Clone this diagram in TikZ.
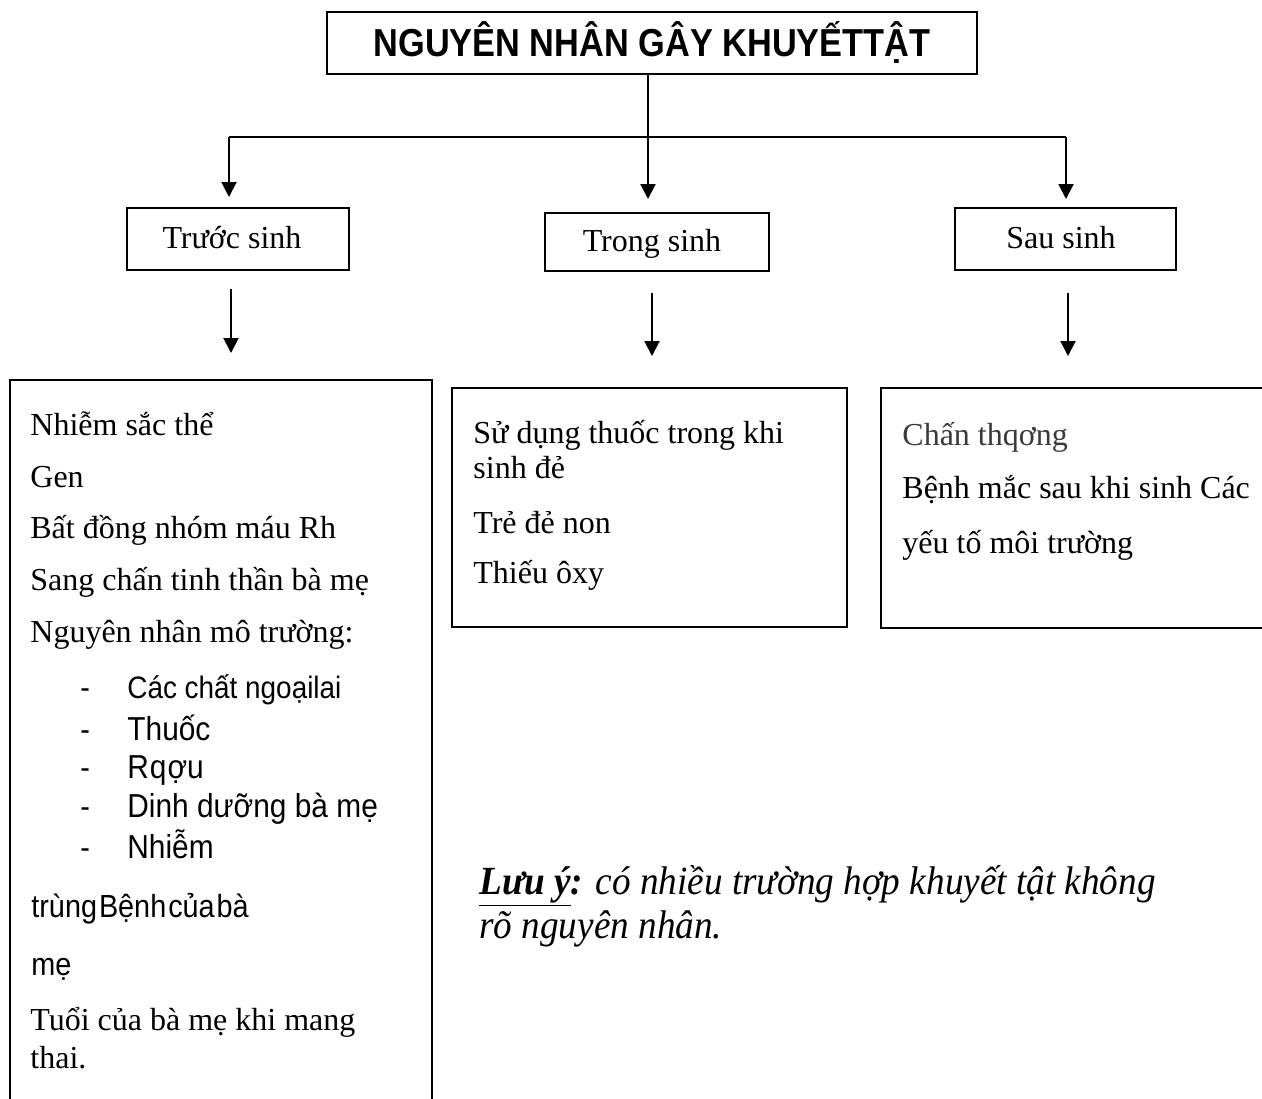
\documentclass[tikz,border=0pt]{standalone}
\usepackage{fontspec}
\setmainfont{Liberation Serif}
\setsansfont{Liberation Sans}
\newfontfamily\narrowsans[FakeStretch=0.9]{Liberation Sans}
\newfontfamily\titlefont[FakeStretch=0.88]{Liberation Sans}
\newfontfamily\noteserif[FakeStretch=0.93]{Liberation Serif}
\usetikzlibrary{arrows.meta}
\definecolor{softblack}{HTML}{3A3A3A}
\tikzset{
  box/.style={draw=black, line width=1pt, inner sep=0pt},
  catbox/.style={box, minimum height=31pt, font=\fontsize{16}{19}\selectfont,
    text height=11pt, text depth=2pt},
  arr/.style={line width=1pt, -{Triangle[length=7.5pt,width=7.5pt]}},
  txt/.style={anchor=base west, inner sep=0pt, font=\fontsize{16}{19}\selectfont},
  stxt/.style={anchor=base west, inner sep=0pt, font=\narrowsans\fontsize{16}{19}\selectfont},
  sbig/.style={stxt, font=\narrowsans\fontsize{16.6}{19}\selectfont},
  notetxt/.style={anchor=base west, inner sep=0pt, font=\noteserif\itshape\fontsize{20}{24}\selectfont},
}
\begin{document}
\begin{tikzpicture}[x=0.5pt, y=-0.5pt]
\useasboundingbox (0,0) rectangle (1262,1098);
\clip (0,0) rectangle (1262,1098);
\fill[white] (0,0) rectangle (1262,1098);

% title
\node[box, minimum width=325pt, minimum height=31pt,
  font=\titlefont\bfseries\fontsize{19.5}{23}\selectfont] (title) at (652,43)
  {NGUYÊN NHÂN GÂY KHUYẾTTẬT};

% categories
\node[catbox, minimum width=111pt] (tr) at (238,239) {\kern-6pt Trước sinh};
\node[catbox, minimum width=112pt, minimum height=29pt] (tg) at (657,242) {\kern-5pt Trong sinh};
\node[catbox, minimum width=110.5pt] (ss) at (1065.5,239) {\kern-4.5pt Sau sinh};

% content boxes
\node[box, minimum width=211pt, minimum height=375pt] (lbox) at (221,755) {};
\node[box, minimum width=197.5pt, minimum height=119.5pt] (mbox) at (649.5,507.5) {};
\node[box, minimum width=209.5pt, minimum height=120pt] (rbox) at (1090.5,508) {};

% connectors from title
\coordinate (bar) at (648,137);
\draw[arr, shorten >=6.5pt] ([xshift=-2pt]title.south) -- ([xshift=-2pt]title.south |- tg.north);
\draw[line width=1pt] ([xshift=-4.5pt]tr.north |- bar) -- (ss.north |- bar);
\draw[arr, shorten >=5pt] ([xshift=-4.5pt]tr.north |- bar) -- ([xshift=-4.5pt]tr.north);
\draw[arr, shorten >=4pt] ([xshift=0.25pt]ss.north |- bar) -- ([xshift=0.25pt]ss.north);

% floating arrows
\draw[arr, shorten <=9pt, shorten >=13pt] ([xshift=-3.5pt]tr.south) -- ([xshift=-3.5pt]tr.south |- lbox.north);
\draw[arr, shorten <=10.5pt, shorten >=15.5pt] ([xshift=-2.5pt]tg.south) -- ([xshift=-2.5pt]tg.south |- mbox.north);
\draw[arr, shorten <=11pt, shorten >=15.5pt] ([xshift=1.25pt]ss.south) -- ([xshift=1.25pt]ss.south |- rbox.north);

% left box text
\node[txt] (l1) at (30,435) {Nhiễm sắc thể};
\node[txt] (l2) at (30,487) {Gen};
\node[txt] (l3) at (30,538) {Bất đồng nhóm máu Rh};
\node[txt] (l4) at (30,590) {Sang chấn tinh thần bà mẹ};
\node[txt] (l5) at (30,642) {Nguyên nhân mô trường:};
\node[stxt] (d1) at (80,698) {-};
\node[stxt, font=\narrowsans\fontsize{15.5}{19}\selectfont] (s1) at (127,698) {Các chất ngoạilai};
\node[stxt] (d2) at (80,740) {-};
\node[sbig] (s2) at (127,740) {Thuốc};
\node[stxt] (d3) at (80,778) {-};
\node[sbig] (s3) at (127,778) {R\kern0.5pt q\kern0.5pt ợu};
\node[stxt] (d4) at (80,817) {-};
\node[sbig] (s4) at (127,817) {Dinh dưỡng bà mẹ};
\node[stxt] (d5) at (80,858) {-};
\node[sbig] (s5) at (127,858) {Nhiễm};
\node[stxt] (s6) at (31,917) {trùng\kern1pt Bệnh\kern1pt của\kern1pt bà};
\node[stxt] (s7) at (31,975) {mẹ};
\node[txt] (l6) at (30,1030) {Tuổi của bà mẹ khi mang};
\node[txt] (l7) at (30,1068) {thai.};

% middle box text
\node[txt] (m1) at (473,443) {Sử dụng thuốc trong khi};
\node[txt] (m2) at (473,478) {sinh đẻ};
\node[txt] (m3) at (473,533) {Trẻ đẻ non};
\node[txt] (m4) at (473,583) {Thiếu ôxy};

% right box text
\node[txt, text=softblack] (r1) at (902,445) {Chấn thqơng};
\node[txt] (r2) at (902,498) {Bệnh mắc sau khi sinh Các};
\node[txt] (r3) at (902,553) {yếu tố môi trường};

% note
\node[notetxt] (n1) at (479,894) {\textbf{\underline{Lưu ý}:} có nhiều trường hợp khuyết tật không};
\node[notetxt] (n2) at (479,938) {rõ nguyên nhân.};
\end{tikzpicture}
\end{document}
